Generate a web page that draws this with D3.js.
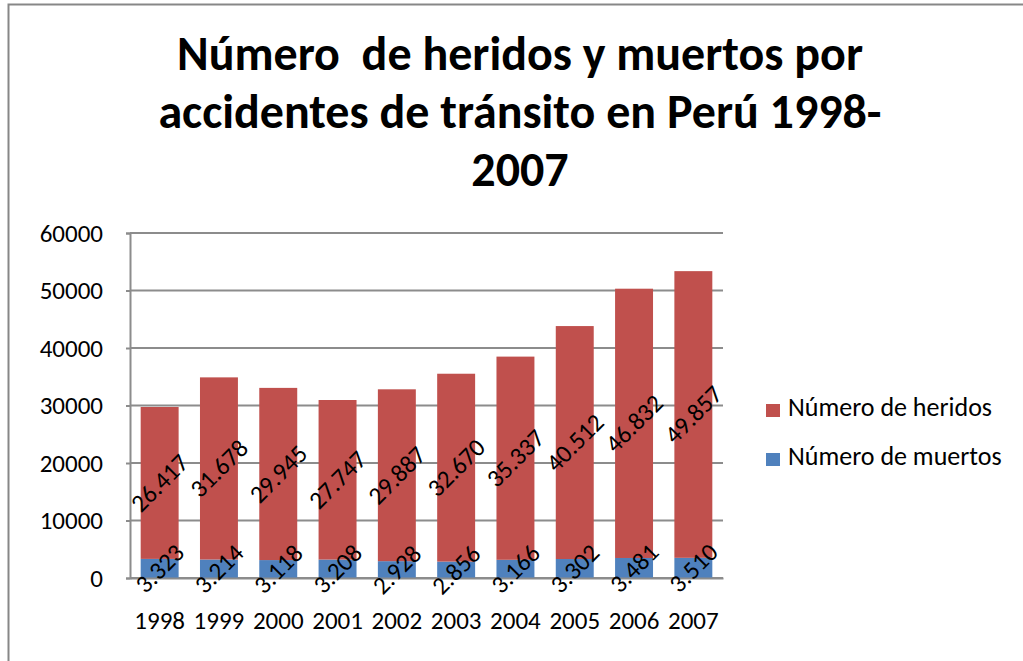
<!DOCTYPE html>
<html>
<head>
<meta charset="utf-8">
<script src="https://cdn.jsdelivr.net/npm/d3@7"></script>
<style>
  html, body { margin: 0; padding: 0; background: #fff; }
  svg { display: block; }
  text { font-family: Carlito, Lato, "Liberation Sans", sans-serif; }
</style>
</head>
<body>
<svg id="chart" width="1023" height="661"></svg>
<script>
const categories = ["1998","1999","2000","2001","2002","2003","2004","2005","2006","2007"];
const muertos = [3323, 3214, 3118, 3208, 2928, 2856, 3166, 3302, 3481, 3510];
const heridos = [26417, 31678, 29945, 27747, 29887, 32670, 35337, 40512, 46832, 49857];
const yTicks = [0, 10000, 20000, 30000, 40000, 50000, 60000];
const seriesNames = ["Número de muertos", "Número de heridos"];
const seriesColors = ["#4F81BD", "#C0504D"];
const titleLines = ["Número  de heridos y muertos por", "accidentes de tránsito en Perú 1998-", "2007"];

const svg = d3.select("#chart");
const W = 1023, H = 661;

// outer chart border
svg.append("rect").attr("x", 8.5).attr("y", 4.5).attr("width", W + 10).attr("height", H + 10)
  .attr("fill", "#fff").attr("stroke", "#878787").attr("stroke-width", 2);

const plot = { left: 130, right: 723, top: 233, bottom: 578 };

const x = d3.scaleBand().domain(categories).range([plot.left, plot.right])
  .paddingInner(0.36).paddingOuter(0.18);
const y = d3.scaleLinear().domain([0, 60000]).range([plot.bottom, plot.top]);

const loc = d3.formatLocale({ decimal: ",", thousands: ".", grouping: [3], currency: ["", ""] });
const fmt = loc.format(",d");

// gridlines
const g = svg.append("g");
g.selectAll("line.grid").data(yTicks).join("line").attr("class", "grid")
  .attr("x1", plot.left).attr("x2", plot.right)
  .attr("y1", d => y(d)).attr("y2", d => y(d))
  .attr("stroke", "#8c8c8c").attr("stroke-width", 2);

// y axis
const yAxis = d3.axisLeft(y).tickValues(yTicks).tickSize(4).tickPadding(23).tickFormat(d3.format("d"));
const ya = svg.append("g").attr("transform", `translate(${plot.left},0)`).call(yAxis);
ya.select(".domain").attr("stroke", "#8c8c8c").attr("stroke-width", 2);
ya.selectAll(".tick line").attr("stroke", "#8c8c8c").attr("stroke-width", 2);
ya.selectAll(".tick text").attr("font-size", 25).attr("fill", "#000")
  .style("font-family", "Carlito, Lato, sans-serif");

// stacked data
const rows = categories.map((c, i) => ({ cat: c, m: muertos[i], h: heridos[i] }));
const stack = d3.stack().keys(["m", "h"]);
const layers = stack(rows);

svg.append("g").selectAll("g").data(layers).join("g")
  .attr("fill", (d, i) => seriesColors[i])
  .selectAll("rect").data(d => d).join("rect")
  .attr("x", d => x(d.data.cat))
  .attr("width", x.bandwidth())
  .attr("y", d => y(d[1]))
  .attr("height", d => y(d[0]) - y(d[1]));

// x axis
const xAxis = d3.axisBottom(x).tickSize(0).tickPadding(33);
const xa = svg.append("g").attr("transform", `translate(0,${plot.bottom})`).call(xAxis);
xa.select(".domain").attr("stroke", "#8c8c8c").attr("stroke-width", 2);
xa.selectAll(".tick text").attr("font-size", 25).attr("fill", "#000")
  .style("font-family", "Carlito, Lato, sans-serif");

// data labels
const lg = svg.append("g");
layers.forEach((layer) => {
  lg.selectAll(null).data(layer).join("text")
    .attr("transform", d => `translate(${x(d.data.cat) + x.bandwidth() / 2},${(y(d[0]) + y(d[1])) / 2}) rotate(-45)`)
    .attr("text-anchor", "middle").attr("dominant-baseline", "central")
    .attr("font-size", 25).attr("fill", "#000")
    .text(d => fmt(d[1] - d[0]));
});

// legend
const legendItems = [1, 0];
const leg = svg.append("g");
legendItems.forEach((si, k) => {
  const yy = 416 + k * 49;
  leg.append("rect").attr("x", 766).attr("y", yy - 12).attr("width", 14).attr("height", 13)
    .attr("fill", seriesColors[si]);
  leg.append("text").attr("x", 788).attr("y", yy).attr("font-size", 26).attr("fill", "#000")
    .text(seriesNames[si]);
});

// title
const tg = svg.append("g");
titleLines.forEach((t, i) => {
  tg.append("text").attr("x", 520).attr("y", 70 + i * 58)
    .attr("text-anchor", "middle").attr("font-size", 48).attr("font-weight", "bold")
    .attr("fill", "#000").attr("xml:space", "preserve").style("white-space", "pre")
    .text(t);
});
</script>
</body>
</html>
